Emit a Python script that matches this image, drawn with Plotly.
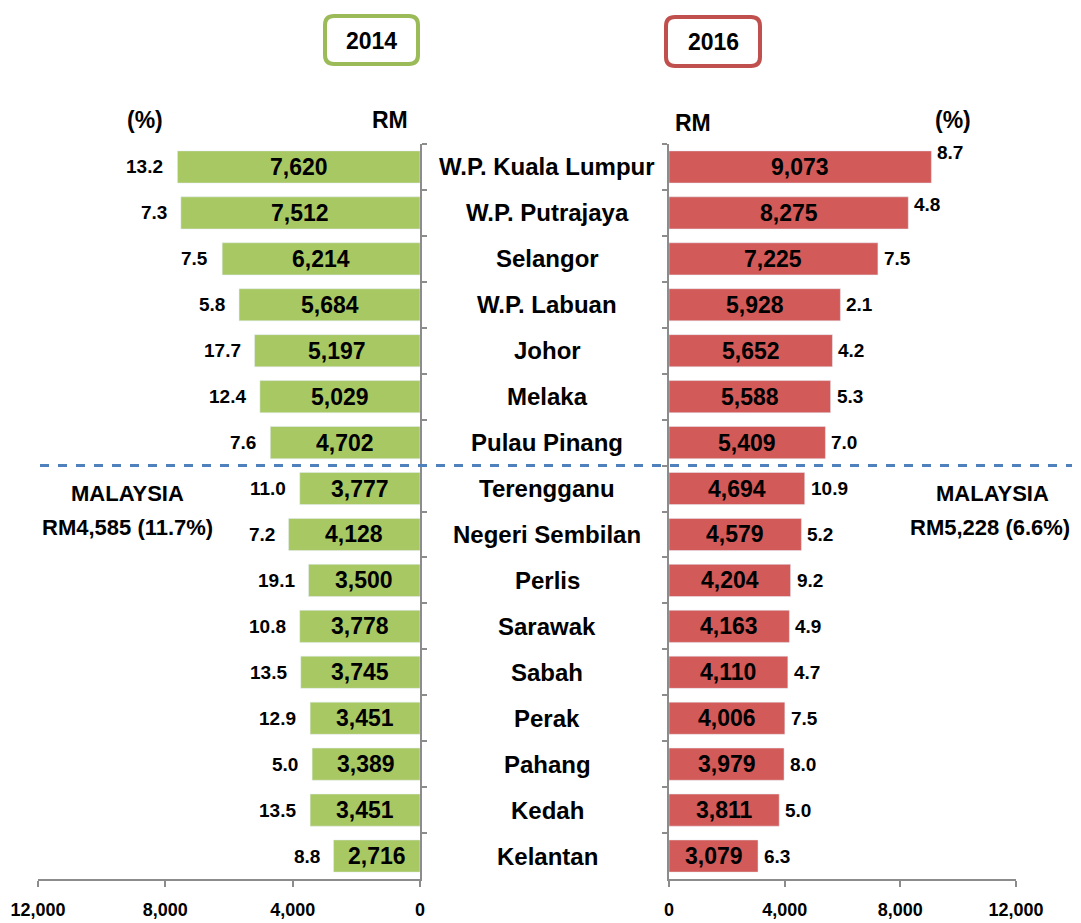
import plotly.graph_objects as go

states = ["W.P. Kuala Lumpur", "W.P. Putrajaya", "Selangor", "W.P. Labuan", "Johor",
          "Melaka", "Pulau Pinang", "Terengganu", "Negeri Sembilan", "Perlis",
          "Sarawak", "Sabah", "Perak", "Pahang", "Kedah", "Kelantan"]
income_2014 = [7620, 7512, 6214, 5684, 5197, 5029, 4702, 3777, 4128, 3500, 3778, 3745, 3451, 3389, 3451, 2716]
growth_2014 = [13.2, 7.3, 7.5, 5.8, 17.7, 12.4, 7.6, 11.0, 7.2, 19.1, 10.8, 13.5, 12.9, 5.0, 13.5, 8.8]
income_2016 = [9073, 8275, 7225, 5928, 5652, 5588, 5409, 4694, 4579, 4204, 4163, 4110, 4006, 3979, 3811, 3079]
growth_2016 = [8.7, 4.8, 7.5, 2.1, 4.2, 5.3, 7.0, 10.9, 5.2, 9.2, 4.9, 4.7, 7.5, 8.0, 5.0, 6.3]
x_ticks = [0, 4000, 8000, 12000]
malaysia_2014 = "RM4,585 (11.7%)"
malaysia_2016 = "RM5,228 (6.6%)"

OFF = 8            # page body margin
W, H = 1081 - OFF, 923 - OFF
FONT = "Liberation Sans, Arial, sans-serif"
GREEN = "#A8C864"
RED = "#D25A58"
GREEN_B = "#9BBB59"
RED_B = "#C0504D"
AXC = "#8C8C8C"

def px(x):
    return (x - OFF) / W

def py(y):
    return 1 - (y - OFF) / H

fig = go.Figure()
fig.add_trace(go.Bar(y=states, x=income_2014, orientation="h", marker_color=GREEN,
                     width=0.7, xaxis="x", yaxis="y", hoverinfo="x+y"))
fig.add_trace(go.Bar(y=states, x=income_2016, orientation="h", marker_color=RED,
                     width=0.7, xaxis="x2", yaxis="y2", hoverinfo="x+y"))

ann = []
def bold(t):
    return "<b>" + t + "</b>"

# right-side pct label raise for the first two rows (style only)
raise_2016 = {0: 14, 1: 8}

for i, s in enumerate(states):
    ann.append(dict(x=income_2014[i] / 2, y=s, xref="x", yref="y", text=bold(f"{income_2014[i]:,}"),
                    showarrow=False, xanchor="center", yanchor="middle",
                    font=dict(size=23, family=FONT, color="black")))
    ann.append(dict(x=income_2016[i] / 2, y=s, xref="x2", yref="y2", text=bold(f"{income_2016[i]:,}"),
                    showarrow=False, xanchor="center", yanchor="middle",
                    font=dict(size=23, family=FONT, color="black")))
    ann.append(dict(x=income_2014[i], y=s, xref="x", yref="y", text=bold(f"{growth_2014[i]:.1f}"),
                    showarrow=False, xanchor="right", yanchor="middle", xshift=-12,
                    font=dict(size=19, family=FONT, color="black")))
    ann.append(dict(x=income_2016[i], y=s, xref="x2", yref="y2", text=bold(f"{growth_2016[i]:.1f}"),
                    showarrow=False, xanchor="left", yanchor="middle", xshift=4,
                    yshift=raise_2016.get(i, 0),
                    font=dict(size=19, family=FONT, color="black")))
    ann.append(dict(x=px(547), y=s, xref="paper", yref="y", text=bold(s), showarrow=False,
                    xanchor="center", yanchor="middle",
                    font=dict(size=24, family=FONT, color="black")))

hdr = [("(%)", 145, 120, 23), ("RM", 390, 120, 23), ("RM", 693, 123, 23), ("(%)", 953, 120, 23),
       ("2014", 371, 41, 23), ("2016", 713, 42, 23),
       ("MALAYSIA", 127, 494, 22), (malaysia_2014, 127, 527, 22),
       ("MALAYSIA", 992, 494, 22), (malaysia_2016, 990, 527, 22)]
for t, x, y, fs in hdr:
    ann.append(dict(x=px(x), y=py(y), xref="paper", yref="paper", text=bold(t), showarrow=False,
                    xanchor="center", yanchor="middle",
                    font=dict(size=fs, family=FONT, color="black")))

def rrect(x0, y0, x1, y1, r):
    X = lambda v: f"{px(v):.5f}"
    Y = lambda v: f"{py(v):.5f}"
    return (f"M {X(x0 + r)} {Y(y0)} L {X(x1 - r)} {Y(y0)} Q {X(x1)} {Y(y0)} {X(x1)} {Y(y0 + r)} "
            f"L {X(x1)} {Y(y1 - r)} Q {X(x1)} {Y(y1)} {X(x1 - r)} {Y(y1)} "
            f"L {X(x0 + r)} {Y(y1)} Q {X(x0)} {Y(y1)} {X(x0)} {Y(y1 - r)} "
            f"L {X(x0)} {Y(y0 + r)} Q {X(x0)} {Y(y0)} {X(x0 + r)} {Y(y0)} Z")

shapes = [
    dict(type="path", xref="paper", yref="paper", path=rrect(325, 16, 418, 64, 9),
         line=dict(color=GREEN_B, width=4)),
    dict(type="path", xref="paper", yref="paper", path=rrect(666, 17, 760, 66, 9),
         line=dict(color=RED_B, width=4)),
    dict(type="line", xref="paper", yref="y", x0=px(40), x1=px(1072), y0=6.5, y1=6.5,
         line=dict(color="#4F81BD", width=3, dash="dash")),
]

ydom = [py(879), py(144)]
xaxis_common = dict(tickvals=x_ticks, tickformat=",", showgrid=False, zeroline=False,
                    showline=True, linecolor=AXC, linewidth=1.5, ticks="outside", ticklen=6,
                    tickcolor=AXC, tickwidth=1.5, automargin=False, ticklabelstandoff=8,
                    tickfont=dict(size=18, family=FONT, color="black", weight="bold"),
                    fixedrange=True)
yaxis_common = dict(type="category", autorange="reversed", showticklabels=False, showgrid=False,
                    zeroline=False, showline=True, linecolor=AXC, linewidth=1.5, ticks="outside",
                    tickson="boundaries", ticklen=5, tickcolor=AXC, tickwidth=1.5, domain=ydom,
                    fixedrange=True, automargin=False)

fig.update_layout(
    width=W, height=H, margin=dict(l=0, r=0, t=0, b=0, pad=0, autoexpand=False),
    paper_bgcolor="white", plot_bgcolor="white", showlegend=False,
    font=dict(family=FONT, color="black"),
    xaxis=dict(domain=[px(38), px(420)], range=[12000, 0], anchor="y", **xaxis_common),
    xaxis2=dict(domain=[px(669), px(1016)], range=[0, 12000], anchor="y2", **xaxis_common),
    yaxis=dict(anchor="x", side="right", **yaxis_common),
    yaxis2=dict(anchor="x2", side="left", matches="y", **yaxis_common),
    annotations=ann, shapes=shapes, bargap=0.3,
)

fig.write_html("out.html")
